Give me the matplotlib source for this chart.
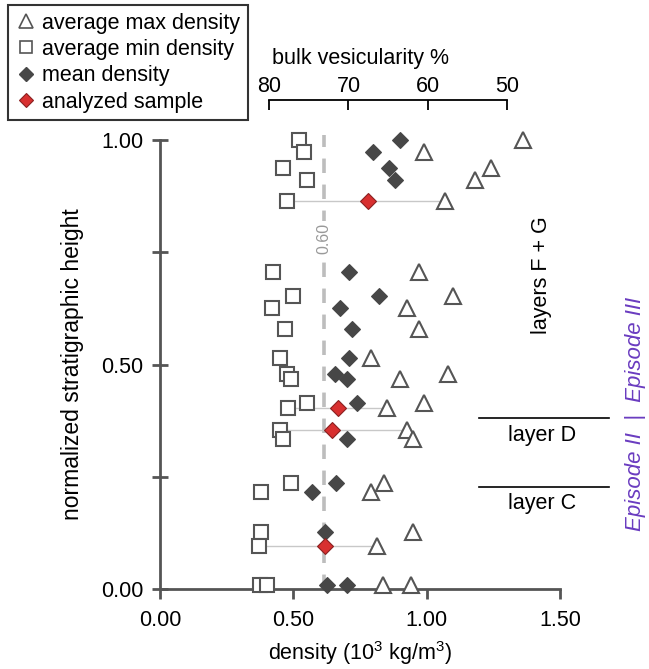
import matplotlib
matplotlib.use("Agg")
import matplotlib.pyplot as plt
from matplotlib.lines import Line2D

plt.rcParams['font.family'] = ['Liberation Sans', 'DejaVu Sans']
plt.rcParams['mathtext.default'] = 'regular'

# one entry per sample: stratigraphic height, min / mean / max density
height = [1.00, 0.973, 0.937, 0.910, 0.865,
          0.707, 0.653, 0.625, 0.578, 0.515,
          0.478, 0.468, 0.414, 0.404, 0.355, 0.333,
          0.236, 0.215, 0.128, 0.096, 0.009, 0.009]
min_dens = [0.52, 0.54, 0.46, 0.55, 0.475,
            0.425, 0.50, 0.42, 0.47, 0.45,
            0.475, 0.49, 0.55, 0.48, 0.45, 0.46,
            0.49, 0.378, 0.378, 0.37, 0.375, 0.40]
mean_dens = [0.90, 0.80, 0.86, 0.88, 0.78,
             0.71, 0.82, 0.675, 0.72, 0.71,
             0.656, 0.70, 0.74, 0.666, 0.644, 0.70,
             0.66, 0.57, 0.62, 0.62, 0.628, 0.70]
max_dens = [1.36, 0.99, 1.24, 1.18, 1.07,
            0.97, 1.10, 0.925, 0.97, 0.79,
            1.08, 0.90, 0.99, 0.85, 0.925, 0.95,
            0.84, 0.79, 0.95, 0.815, 0.835, 0.94]
analyzed = [False, False, False, False, True,
            False, False, False, False, False,
            False, False, False, True, True, False,
            False, False, False, True, False, False]

vesic_ticks = [80, 70, 60, 50]
threshold = 0.615

# top axis: linear density <-> vesicularity mapping
def d2v(d):
    return 80 - (d - 0.4095) / 0.02973

def v2d(v):
    return 0.4095 + (80 - v) * 0.02973

grey = '#555555'
dark = '#474747'
red = '#d83030'
fs = 15.5

fig = plt.figure(figsize=(6.49, 6.69), dpi=100)
ax = fig.add_axes([160 / 649, 80 / 669, 400 / 649, 449 / 669])
ax.set_xlim(0, 1.5)
ax.set_ylim(0, 1.0)

# connectors for analyzed samples
for h, lo, hi, a in zip(height, min_dens, max_dens, analyzed):
    if a:
        ax.plot([lo, hi], [h, h], color='#c8c8c8', lw=1.0, zorder=1, clip_on=False)

ax.axvline(threshold, ymin=0, ymax=1.012, color='#bdbdbd', lw=2.6,
           dashes=(4, 3.2), zorder=0, clip_on=False)
ax.text(threshold, 0.78, '0.60', rotation=90, ha='center', va='center',
        color='#999999', fontsize=11.5, zorder=0.5,
        bbox=dict(facecolor='white', edgecolor='none', pad=1.5))

ms = 9.5
mean_x = [m for m, a in zip(mean_dens, analyzed) if not a]
mean_y = [h for h, a in zip(height, analyzed) if not a]
red_x = [m for m, a in zip(mean_dens, analyzed) if a]
red_y = [h for h, a in zip(height, analyzed) if a]

ax.plot(max_dens, height, linestyle='none', marker='^', ms=ms + 1.5, mfc='white',
        mec=grey, mew=1.5, clip_on=False, zorder=3)
ax.plot(min_dens, height, linestyle='none', marker='s', ms=ms, mfc='white',
        mec=grey, mew=1.5, clip_on=False, zorder=3)
ax.plot(mean_x, mean_y, linestyle='none', marker='D', ms=ms - 1, mfc=dark,
        mec=dark, mew=0.8, clip_on=False, zorder=3)
ax.plot(red_x, red_y, linestyle='none', marker='D', ms=ms - 1, mfc=red,
        mec='#8a2020', mew=0.8, clip_on=False, zorder=4)

# axes styling
for s in ['top', 'right']:
    ax.spines[s].set_visible(False)
for s in ['left', 'bottom']:
    ax.spines[s].set_color(grey)
    ax.spines[s].set_linewidth(2)
ax.set_xticks([0, 0.5, 1.0, 1.5])
ax.set_xticklabels(['0.00', '0.50', '1.00', '1.50'])
ax.set_yticks([0, 0.25, 0.5, 0.75, 1.0])
ax.set_yticklabels(['0.00', '', '0.50', '', '1.00'])
ax.tick_params(axis='y', direction='inout', length=12, width=2, color=grey,
               labelsize=fs, pad=6)
ax.tick_params(axis='x', direction='out', length=7, width=2, color=grey,
               labelsize=fs, pad=8)
ax.set_xlabel('density (10$^{3}$ kg/m$^{3}$)', fontsize=fs, labelpad=6)
ax.set_ylabel('normalized stratigraphic height', fontsize=16.5, labelpad=12)

# top vesicularity axis
secax = ax.secondary_xaxis(1.089, functions=(d2v, v2d))
secax.set_xticks(vesic_ticks)
secax.spines['top'].set_bounds(50, 80)
secax.spines['top'].set_linewidth(1.3)
secax.tick_params(direction='in', length=7, width=1.3, labelsize=fs, pad=2)
secax.set_xlabel('bulk vesicularity %', fontsize=fs, labelpad=9)

# layer annotations
ax.plot([1.196, 1.684], [0.381, 0.381], color='black', lw=1.2, clip_on=False)
ax.plot([1.196, 1.684], [0.227, 0.227], color='black', lw=1.2, clip_on=False)
ax.text(1.432, 0.70, 'layers F + G', rotation=90, ha='center', va='center',
        fontsize=fs)
ax.text(1.432, 0.341, 'layer D', ha='center', va='center', fontsize=fs)
ax.text(1.432, 0.19, 'layer C', ha='center', va='center', fontsize=fs)
ax.text(1.785, 0.39, 'Episode II  |  Episode III', rotation=90, ha='center',
        va='center', fontsize=16, style='italic', color='#6a3cc0')

handles = [
    Line2D([], [], linestyle='none', marker='^', ms=10, mfc='white', mec=grey, mew=1.2),
    Line2D([], [], linestyle='none', marker='s', ms=8.5, mfc='white', mec=grey, mew=1.2),
    Line2D([], [], linestyle='none', marker='D', ms=7.5, mfc=dark, mec=dark),
    Line2D([], [], linestyle='none', marker='D', ms=7.5, mfc=red, mec='#8a2020', mew=0.8),
]
labels = ['average max density', 'average min density', 'mean density', 'analyzed sample']
leg = fig.legend(handles, labels, loc='upper left', bbox_to_anchor=(8 / 649, 1 - 5 / 669),
                 fontsize=fs, frameon=True, fancybox=False, edgecolor='black',
                 handletextpad=0.25, labelspacing=0.25, borderpad=0.35, handlelength=1.0,
                 borderaxespad=0)
leg.get_frame().set_linewidth(1.5)

fig.savefig('out.png', dpi=100)
